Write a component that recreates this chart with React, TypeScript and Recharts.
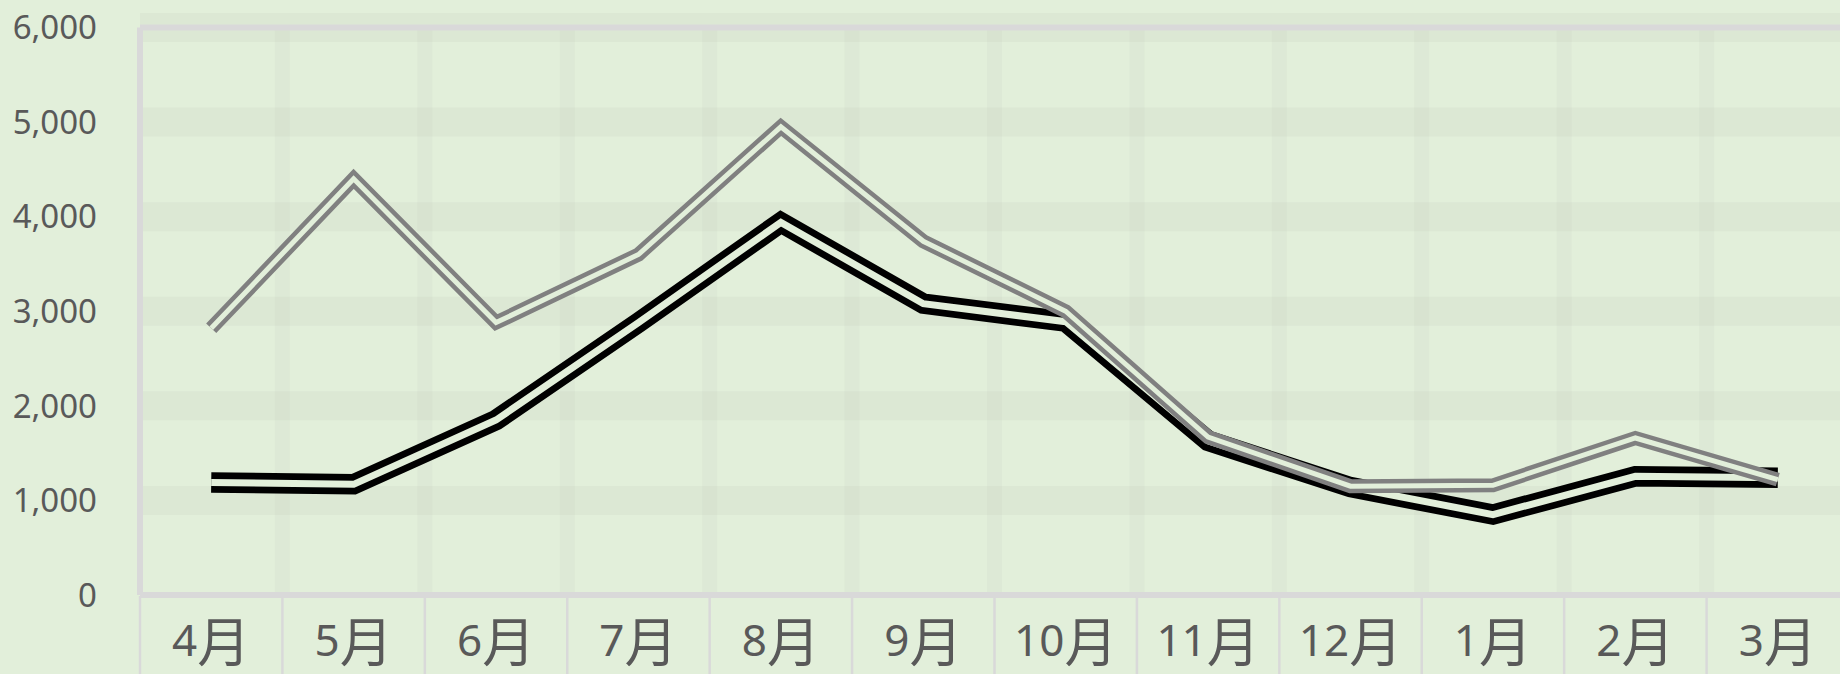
import React from 'react';
import { ComposedChart, Line, XAxis, YAxis, ReferenceLine } from 'recharts';

const months = ['4月', '5月', '6月', '7月', '8月', '9月', '10月', '11月', '12月', '1月', '2月', '3月'];
const seriesBlack = [1190, 1170, 1850, 2880, 3940, 3080, 2890, 1630, 1140, 850, 1255, 1240];
const seriesGray = [2820, 4400, 2880, 3600, 4950, 3740, 3000, 1670, 1150, 1160, 1660, 1220];
const yTicks = [0, 1000, 2000, 3000, 4000, 5000, 6000];
const gridYTicks = [1000, 2000, 3000, 4000, 5000, 6000];
const bandEdges = [0, 1, 2, 3, 4, 5, 6, 7, 8, 9, 10, 11, 12];
const innerEdges = [1, 2, 3, 4, 5, 6, 7, 8, 9, 10, 11];

const data = months.map((m, i) => ({ month: m, idx: i, s1: seriesBlack[i], s2: seriesGray[i] }));

const BG = '#E2EFDA';
const AXIS = '#D9D9D9';
const TEXT = '#595959';
const BAND = '#9a9a9a';

const MonthTick = (props: any) => {
  const { x, y, payload } = props;
  const label = String(payload.value);
  const num = label.replace('月', '');
  return (
    <text x={x} y={y + 61} textAnchor="middle" fill={TEXT}>
      <tspan fontFamily="'Noto Sans', sans-serif" fontSize={44}>{num}</tspan>
      <tspan fontFamily="'Noto Sans CJK JP', sans-serif" fontSize={53} dy={6}>月</tspan>
    </text>
  );
};

const EmptyTick = () => <g />;

export default function App() {
  return (
    <div style={{ position: 'absolute', left: 0, top: 0, width: 1840, height: 674, overflow: 'hidden', background: BG }}>
      <ComposedChart width={1860} height={674} data={data} margin={{ top: 27.5, right: 11, left: 0, bottom: 77 }}>
        <XAxis
          dataKey="month"
          scale="band"
          height={1}
          tickSize={0}
          tickMargin={0}
          tickLine={false}
          axisLine={{ stroke: AXIS, strokeWidth: 6 }}
          tick={<MonthTick />}
          interval={0}
        />
        <XAxis
          xAxisId="tk"
          dataKey="idx"
          type="number"
          domain={[0, 12]}
          ticks={bandEdges}
          allowDataOverflow
          height={1}
          axisLine={false}
          tick={<EmptyTick />}
          tickSize={80}
          tickLine={{ stroke: AXIS, strokeWidth: 2.5 }}
          interval={0}
        />
        <YAxis
          domain={[0, 6000]}
          ticks={yTicks}
          width={140}
          tickSize={0}
          tickMargin={43}
          tickLine={false}
          axisLine={{ stroke: AXIS, strokeWidth: 6 }}
          tick={{ fill: TEXT, fontSize: 33, fontFamily: "'Noto Sans', sans-serif" }}
          tickFormatter={(v: number) => v.toLocaleString('en-US')}
          interval={0}
        />
        {gridYTicks.map((v) => (
          <ReferenceLine key={'h' + v} y={v} stroke={BAND} strokeOpacity={0.08} strokeWidth={29} />
        ))}
        {innerEdges.map((v) => (
          <ReferenceLine key={'v' + v} x={v} xAxisId="tk" stroke={BAND} strokeOpacity={0.06} strokeWidth={15} />
        ))}
        <ReferenceLine y={6000} stroke={AXIS} strokeWidth={6} />
        <Line dataKey="s1" name="系列1" stroke="#000000" strokeWidth={20.5} strokeLinejoin="miter" dot={false} activeDot={false} isAnimationActive={false} />
        <Line dataKey="s1" name="系列1-gap" stroke={BG} strokeWidth={7} strokeLinejoin="miter" dot={false} activeDot={false} isAnimationActive={false} />
        <Line dataKey="s2" name="系列2" stroke="#808080" strokeWidth={14} strokeLinejoin="miter" dot={false} activeDot={false} isAnimationActive={false} />
        <Line dataKey="s2" name="系列2-gap" stroke={BG} strokeWidth={5} strokeLinejoin="miter" dot={false} activeDot={false} isAnimationActive={false} />
      </ComposedChart>
    </div>
  );
}
